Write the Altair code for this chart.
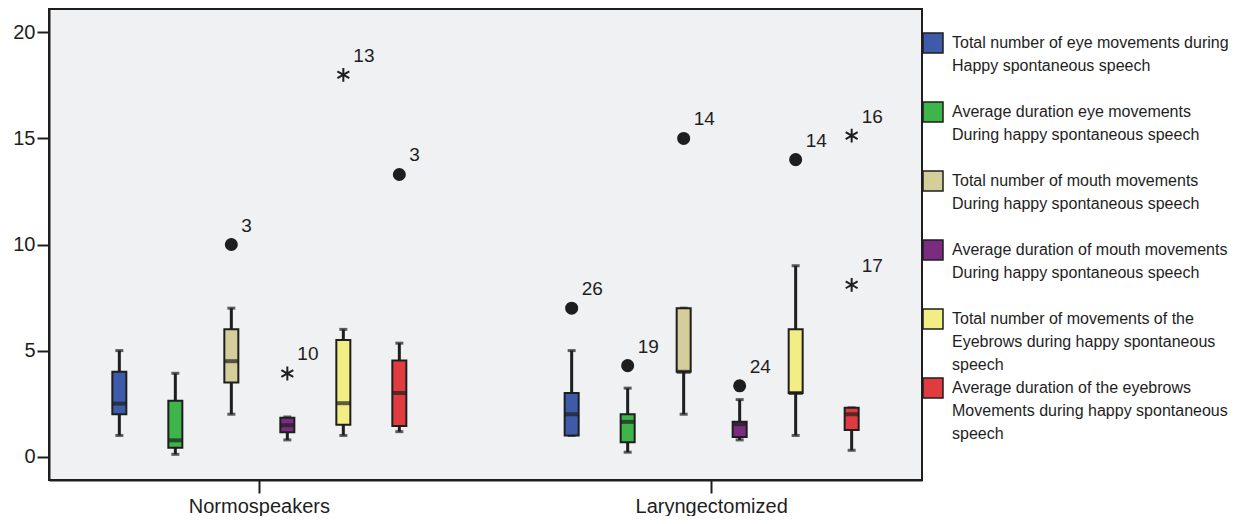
import altair as alt
import pandas as pd

groups = ["Normospeakers", "Laryngectomized"]
series_lines = [
    ["Total number of eye movements during", "Happy spontaneous speech"],
    ["Average duration eye movements", "During happy spontaneous speech"],
    ["Total number of mouth movements", "During happy spontaneous speech"],
    ["Average duration of mouth movements", "During happy spontaneous speech"],
    ["Total number of movements of the", "Eyebrows during happy spontaneous", "speech"],
    ["Average duration of the eyebrows", "Movements during happy spontaneous", "speech"],
]
series = ["|".join(s) for s in series_lines]
colors = ["#3e5ba9", "#3db54a", "#d3ce9b", "#7b2c80", "#f2ee83", "#e03c3f"]

# box statistics: low whisker, Q1, median, Q3, high whisker
normo_low = [1.0, 0.11, 2.0, 0.79, 1.0, 1.18]
normo_q1 = [2.0, 0.42, 3.5, 1.15, 1.5, 1.45]
normo_med = [2.5, 0.77, 4.5, 1.48, 2.52, 3.0]
normo_q3 = [4.0, 2.64, 6.0, 1.83, 5.5, 4.53]
normo_high = [5.0, 3.93, 7.0, 1.87, 6.0, 5.35]

lary_low = [1.0, 0.21, 2.0, 0.79, 1.0, 0.3]
lary_q1 = [1.0, 0.68, 4.0, 0.93, 3.0, 1.26]
lary_med = [2.0, 1.64, 4.0, 1.53, 3.0, 2.0]
lary_q3 = [3.0, 2.0, 7.0, 1.64, 6.0, 2.3]
lary_high = [5.0, 3.23, 7.0, 2.69, 9.0, 2.3]

# outliers
out_group = ["Normospeakers", "Normospeakers", "Normospeakers", "Normospeakers",
             "Laryngectomized", "Laryngectomized", "Laryngectomized", "Laryngectomized",
             "Laryngectomized", "Laryngectomized", "Laryngectomized"]
out_series = [2, 3, 4, 5, 0, 1, 2, 3, 4, 5, 5]
out_value = [10.0, 3.92, 18.0, 13.3, 7.0, 4.29, 15.0, 3.34, 14.0, 15.13, 8.1]
out_label = ["3", "10", "13", "3", "26", "19", "14", "24", "14", "16", "17"]
out_kind = ["circle", "star", "star", "circle", "circle", "circle", "circle", "circle", "circle", "star", "star"]

rows = []
for g, lo, q1, md, q3, hi in [
    ("Normospeakers", normo_low, normo_q1, normo_med, normo_q3, normo_high),
    ("Laryngectomized", lary_low, lary_q1, lary_med, lary_q3, lary_high),
]:
    for i, s in enumerate(series):
        rows.append(dict(group=g, series=s, low=lo[i], q1=q1[i], med=md[i], q3=q3[i], high=hi[i]))
box_df = pd.DataFrame(rows)

out_df = pd.DataFrame(dict(
    group=out_group,
    series=[series[i] for i in out_series],
    value=out_value,
    label=out_label,
    kind=out_kind,
))

legend_df = pd.DataFrame(dict(series=series))

FONT = "Liberation Sans"
INK = "#1e1e1e"

x_enc = alt.X(
    "group:N",
    sort=groups,
    scale=alt.Scale(domain=groups, paddingInner=0.07, paddingOuter=0),
    axis=alt.Axis(title=None, labelAngle=0, labelFontSize=20, labelFont=FONT, labelColor=INK,
                  tickSize=13, tickWidth=2, tickColor=INK, domainColor=INK, domainWidth=2,
                  labelPadding=3),
)
xo_enc = alt.XOffset("series:N", sort=series,
                     scale=alt.Scale(domain=series, paddingOuter=0.756, paddingInner=0))
y_scale = alt.Scale(domain=[-1.1, 21.1], nice=False, zero=False)
y_axis = alt.Axis(title=None, values=[0, 5, 10, 15, 20], grid=False, labelFontSize=20,
                  labelFont=FONT, labelColor=INK, tickSize=12, tickWidth=2, tickColor=INK,
                  domainColor=INK, domainWidth=2, labelPadding=2)
color_enc = alt.Color("series:N", sort=series,
                      scale=alt.Scale(domain=series, range=colors), legend=None)

base = alt.Chart(box_df)

whisker = base.mark_rule(color=INK, strokeWidth=3).encode(
    x=x_enc, xOffset=xo_enc,
    y=alt.Y("low:Q", scale=y_scale, axis=y_axis), y2="high:Q",
)
cap_low = base.mark_tick(color=INK, thickness=3, size=8).encode(
    x=x_enc, xOffset=xo_enc, y=alt.Y("low:Q", scale=y_scale),
)
cap_high = base.mark_tick(color=INK, thickness=3, size=8).encode(
    x=x_enc, xOffset=xo_enc, y=alt.Y("high:Q", scale=y_scale),
)
box = base.mark_bar(size=14, stroke=INK, strokeWidth=2, opacity=1).encode(
    x=x_enc, xOffset=xo_enc,
    y=alt.Y("q1:Q", scale=y_scale), y2="q3:Q",
    color=color_enc,
)
median = base.mark_tick(color=INK, thickness=4, size=14).encode(
    x=x_enc, xOffset=xo_enc, y=alt.Y("med:Q", scale=y_scale),
)

obase = alt.Chart(out_df)
circles = obase.transform_filter(alt.datum.kind == "circle").mark_point(
    filled=True, color=INK, size=170, opacity=1, shape="circle"
).encode(x=x_enc, xOffset=xo_enc, y=alt.Y("value:Q", scale=y_scale))

star_path = "M0,-1L0,1M-0.866,-0.5L0.866,0.5M-0.866,0.5L0.866,-0.5"
stars = obase.transform_filter(alt.datum.kind == "star").mark_point(
    filled=False, stroke=INK, strokeWidth=2, size=190, opacity=1, shape=star_path
).encode(x=x_enc, xOffset=xo_enc, y=alt.Y("value:Q", scale=y_scale))

labels = obase.mark_text(
    align="left", baseline="middle", dx=10, dy=-19, fontSize=19, font=FONT, color=INK
).encode(x=x_enc, xOffset=xo_enc, y=alt.Y("value:Q", scale=y_scale), text="label:N")

plot = alt.layer(whisker, cap_low, cap_high, box, median, circles, stars, labels)

# legend drawn at the right of the frame
leg_y = alt.Y("series:N", sort=series,
              scale=alt.Scale(domain=series, type="point", range=[34, 379], padding=0),
              axis=None)
lbase = alt.Chart(legend_df)
swatch = lbase.mark_point(shape="square", filled=True, size=400, stroke=INK,
                          strokeWidth=1.5, opacity=1).encode(
    x=alt.value(884), y=leg_y, color=color_enc,
)
ltext = lbase.mark_text(
    align="left", baseline="middle", lineBreak="|", lineHeight=23,
    fontSize=16, font=FONT, color=INK,
).encode(x=alt.value(903), y=leg_y, text="series:N")
legend = alt.layer(swatch, ltext)

chart = alt.layer(plot, legend).resolve_scale(y="independent").properties(
    width=873, height=471,
    autosize=alt.AutoSizeParams(type="none"),
    padding={"left": 41, "top": 1, "right": 310, "bottom": 36},
).configure(
    background="white",
).configure_view(
    stroke=INK, strokeWidth=2, fill="#f0f1f3"
)

chart.save("out.html", embed_options={"renderer": "svg", "actions": False})
